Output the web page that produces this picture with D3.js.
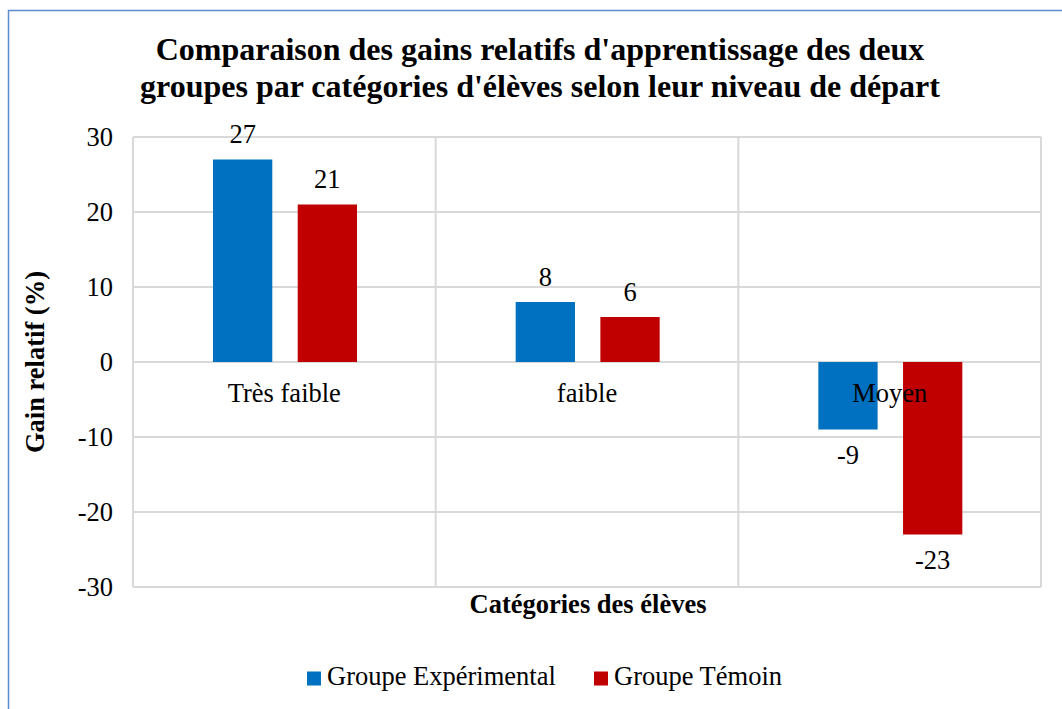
<!DOCTYPE html>
<html lang="fr">
    <head>
        <meta charset="utf-8">
        <title>Gains relatifs</title>
        <script src="https://d3js.org/d3.v7.min.js"></script>
        <style type="text/css">
        body { margin: 0; background: #fff; }
        text { font-family: "Liberation Serif", "Times New Roman", serif; fill: #000; }
        .title { font-size: 32px; font-weight: bold; }
        .axis-title { font-size: 26.5px; font-weight: bold; }
        .tick-label { font-size: 26.5px; }
        .value { font-size: 26.5px; }
        .legend { font-size: 26.5px; }
        </style>
    </head>
    <body>
        <svg width="1062" height="709"></svg>

    <script type="text/javascript">

            // data
            const categories = ["Très faible", "faible", "Moyen"];
            const seriesNames = ["Groupe Expérimental", "Groupe Témoin"];
            const experimental = [27, 8, -9];
            const temoin = [21, 6, -23];
            const yTicks = [-30, -20, -10, 0, 10, 20, 30];

            const colors = ["#0070C0", "#C00000"];

            const svg = d3.select("svg");
            const plotLeft = 133, plotRight = 1041, plotTop = 137, plotBottom = 587;

            // outer border
            svg.append("rect")
               .attr("x", 8.5).attr("y", 10.5)
               .attr("width", 1100).attr("height", 800)
               .attr("fill", "none")
               .attr("stroke", "#5B8BD0")
               .attr("stroke-width", 1.5);

            const yScale = d3.scaleLinear()
                             .domain([-30, 30])
                             .range([plotBottom, plotTop]);

            const xScale = d3.scaleBand()
                             .domain(categories)
                             .range([plotLeft, plotRight]);

            const xInner = d3.scaleBand()
                             .domain(seriesNames)
                             .range([80, 224])
                             .paddingInner(0.3);

            //gridlines
            svg.append("g")
               .selectAll("line")
               .data(yTicks)
               .enter()
               .append("line")
               .attr("x1", plotLeft).attr("x2", plotRight)
               .attr("y1", d => yScale(d)).attr("y2", d => yScale(d))
               .attr("stroke", "#d9d9d9")
               .attr("stroke-width", 2);

            const vlines = categories.map(c => xScale(c)).concat([plotRight]);
            svg.append("g")
               .selectAll("line")
               .data(vlines)
               .enter()
               .append("line")
               .attr("x1", d => d).attr("x2", d => d)
               .attr("y1", plotTop).attr("y2", plotBottom)
               .attr("stroke", "#d9d9d9")
               .attr("stroke-width", 2);

            //y tick labels
            svg.append("g")
               .selectAll("text")
               .data(yTicks)
               .enter()
               .append("text")
               .attr("class", "tick-label")
               .attr("x", 113)
               .attr("y", d => yScale(d) + 8.5)
               .attr("text-anchor", "end")
               .text(d => d);

            //bars
            const allSeries = [experimental, temoin];
            const groups = svg.selectAll("g.series")
                              .data(allSeries)
                              .enter()
                              .append("g")
                              .attr("class", "series")
                              .style("fill", (d, i) => colors[i]);

            groups.each(function(vals, si) {
                const g = d3.select(this);
                g.selectAll("rect")
                 .data(vals)
                 .enter()
                 .append("rect")
                 .attr("x", (d, i) => xScale(categories[i]) + xInner(seriesNames[si]))
                 .attr("y", d => yScale(Math.max(0, d)))
                 .attr("width", xInner.bandwidth())
                 .attr("height", d => Math.abs(yScale(d) - yScale(0)));
            });

            //category labels (at zero line)
            svg.append("g")
               .selectAll("text")
               .data(categories)
               .enter()
               .append("text")
               .attr("class", "tick-label")
               .attr("x", d => xScale(d) + xScale.bandwidth() / 2)
               .attr("y", yScale(0) + 40)
               .attr("text-anchor", "middle")
               .text(d => d);

            //value labels
            allSeries.forEach((vals, si) => {
                svg.append("g")
                   .selectAll("text")
                   .data(vals)
                   .enter()
                   .append("text")
                   .attr("class", "value")
                   .attr("x", (d, i) => xScale(categories[i]) + xInner(seriesNames[si]) + xInner.bandwidth() / 2)
                   .attr("y", d => d >= 0 ? yScale(d) - 16.5 : yScale(d) + 34.5)
                   .attr("text-anchor", "middle")
                   .text(d => d);
            });

            //title
            const title = svg.append("text")
               .attr("class", "title")
               .attr("text-anchor", "middle");
            title.append("tspan").attr("x", 540).attr("y", 60)
                 .text("Comparaison des gains relatifs d'apprentissage des deux");
            title.append("tspan").attr("x", 540).attr("y", 97)
                 .text("groupes par catégories d'élèves selon leur niveau de départ");

            //axis titles
            svg.append("text")
               .attr("class", "axis-title")
               .attr("text-anchor", "middle")
               .attr("transform", "translate(44," + yScale(0) + ") rotate(-90)")
               .text("Gain relatif (%)");

            svg.append("text")
               .attr("class", "axis-title")
               .attr("x", 588)
               .attr("y", 613)
               .attr("text-anchor", "middle")
               .text("Catégories des élèves");

            //legend
            const legendX = [307, 594];
            const legend = svg.append("g")
                              .selectAll("g")
                              .data(seriesNames)
                              .enter()
                              .append("g")
                              .attr("transform", (d, i) => "translate(" + legendX[i] + ",671.5)");
            legend.append("rect")
                  .attr("width", 14).attr("height", 14)
                  .attr("fill", (d, i) => colors[i]);
            legend.append("text")
                  .attr("class", "legend")
                  .attr("x", 20)
                  .attr("y", 13.5)
                  .text(d => d);
        </script>
    </body>
</html>
